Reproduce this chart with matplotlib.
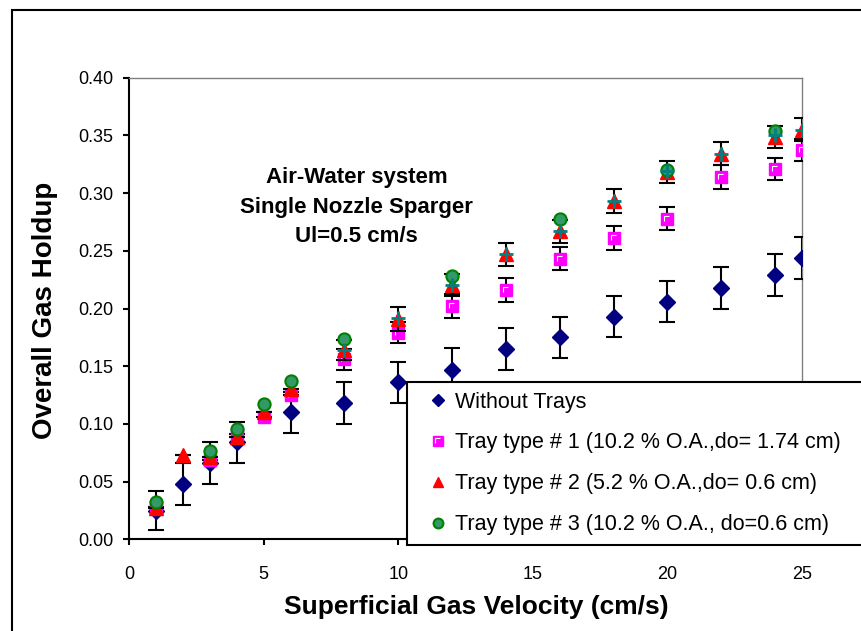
"""
Overall gas holdup vs superficial gas velocity, with and without trays
"""

import matplotlib
matplotlib.use("Agg")
from matplotlib import pyplot as plt
from matplotlib.lines import Line2D
from matplotlib.patches import Rectangle
from matplotlib.path import Path

plt.rcParams['font.family'] = ['Liberation Sans', 'DejaVu Sans']

# Without trays
ug_none = [1, 2, 3, 4, 6, 8, 10, 12, 14, 16, 18, 20, 22, 24, 25]
hold_none = [0.025, 0.048, 0.066, 0.084, 0.110, 0.118, 0.136, 0.147,
             0.165, 0.175, 0.193, 0.206, 0.218, 0.229, 0.244]
err_none = [0.017, 0.018, 0.018, 0.018, 0.018, 0.018, 0.018, 0.019,
            0.018, 0.018, 0.018, 0.018, 0.018, 0.018, 0.018]

# Tray type 1
ug_t1 = [1, 3, 4, 5, 6, 8, 10, 12, 14, 16, 18, 20, 22, 24, 25]
hold_t1 = [0.028, 0.069, 0.091, 0.106, 0.125, 0.156, 0.179, 0.202,
           0.216, 0.243, 0.261, 0.278, 0.314, 0.321, 0.337]
err_t1 = [0, 0, 0, 0, 0, 0.009, 0.009, 0.0105, 0.0105, 0.010, 0.0105,
          0.010, 0.010, 0.0095, 0.0095]

# Tray type 2
ug_t2 = [1, 2, 3, 4, 5, 6, 8, 10, 12, 14, 16, 18, 20, 22, 24, 25]
hold_t2 = [0.027, 0.073, 0.071, 0.089, 0.110, 0.130, 0.164, 0.191, 0.220,
           0.247, 0.267, 0.293, 0.318, 0.334, 0.349, 0.355]
err_t2 = [0, 0, 0, 0, 0, 0, 0.009, 0.0105, 0.0095, 0.010, 0.010, 0.0105,
          0.0095, 0.010, 0.0095, 0.010]

# Tray type 3
ug_t3 = [1, 3, 4, 5, 6, 8, 12, 16, 20, 24]
hold_t3 = [0.032, 0.077, 0.096, 0.117, 0.137, 0.174, 0.228, 0.278,
           0.320, 0.354]

# extra series shown as '+' (not in legend)
ug_plus = [8, 10, 12, 14, 16, 18, 20, 22, 24, 25]
hold_plus = [0.164, 0.192, 0.220, 0.247, 0.267, 0.293, 0.319, 0.334,
             0.350, 0.355]

labels = ["Without Trays",
          "Tray type # 1 (10.2 % O.A.,do= 1.74 cm)",
          "Tray type # 2 (5.2 % O.A.,do= 0.6 cm)",
          "Tray type # 3 (10.2 % O.A., do=0.6 cm)"]

# marker styles per series
styles = [dict(marker='D', ms=7.7, mfc='#000080', mec='#000080'),
          dict(marker='s', ms=8.5, mfc='#ff00ff', mec='#ff00ff'),
          dict(marker='^', ms=9.5, mfc='#ff0000', mec='#ff0000'),
          dict(marker='o', ms=8.8, mfc='#339966', mec='#008000', mew=1.5)]

# small white corner highlight on the square markers
# (first invisible point fixes the marker scale to the square's size)
corner = Path([(0.5, 0.5), (-0.28, -0.2), (-0.28, 0.28), (0.2, 0.28)],
              [Path.MOVETO, Path.MOVETO, Path.LINETO, Path.LINETO])
hl_style = dict(marker=corner, ms=8.5, mfc='none', mec='white', mew=0.8)

W, H = 861, 631
fig = plt.figure(figsize=(W / 100, H / 100), dpi=100)
ax = fig.add_axes([129 / W, 1 - 539.4 / H, 673 / W, 461.7 / H])

eb = dict(ecolor='black', elinewidth=1.5, capsize=5.5, capthick=1.5,
          linestyle='none')
ax.errorbar(ug_none, hold_none, yerr=err_none, zorder=3, **styles[0], **eb)
ax.errorbar(ug_t1, hold_t1, yerr=err_t1, zorder=4, **styles[1], **eb)
ax.plot(ug_t1, hold_t1, linestyle='none', zorder=4.5, **hl_style)
ax.errorbar(ug_t2, hold_t2, yerr=err_t2, zorder=5, **styles[2], **eb)
ax.plot(ug_t3, hold_t3, linestyle='none', zorder=6, **styles[3])
ax.plot(ug_plus, hold_plus, '+', ms=10, mew=2, color='#008080', zorder=7)

ax.set_xlim(0, 25)
ax.set_ylim(0, 0.40)
ax.set_xticks(range(0, 26, 5))
ax.set_yticks([i * 0.05 for i in range(9)])
ax.set_yticklabels([f"{i * 0.05:.2f}" for i in range(9)])
ax.tick_params(direction='out', length=4, width=1.5, labelsize=13)
ax.tick_params(axis='y', pad=7)
ax.tick_params(axis='x', pad=15)
for s in ('left', 'bottom'):
    ax.spines[s].set_linewidth(1.5)
    ax.spines[s].set_color('black')
for s in ('top', 'right'):
    ax.spines[s].set_linewidth(1.0)
    ax.spines[s].set_color('#808080')

fig.text(45 / W, 1 - 310 / H, "Overall Gas Holdup", rotation=90,
         ha='center', va='center', fontsize=20, fontweight='bold')
fig.text(476 / W, 1 - 607 / H, "Superficial Gas Velocity (cm/s)",
         ha='center', va='center', fontsize=19, fontweight='bold')

for txt, yp in zip(["Air-Water system", "Single Nozzle Sparger", "Ul=0.5 cm/s"],
                   [177, 207, 237]):
    fig.text(356.5 / W, 1 - yp / H, txt, ha='center', va='center',
             fontsize=16, fontweight='bold')

handles = [Line2D([], [], linestyle='none', **st) for st in styles]
handles[1] = (handles[1], Line2D([], [], linestyle='none', **hl_style))
leg = fig.legend(handles, labels, loc='upper left',
                 bbox_to_anchor=(407 / W, 0, 0.6, 1 - 382 / H),
                 mode='expand', fontsize=15.5, frameon=True, fancybox=False,
                 borderpad=0.45, labelspacing=0.92, handlelength=2.0,
                 handletextpad=-0.2, borderaxespad=0, markerscale=0.8)
leg.get_frame().set_edgecolor('black')
leg.get_frame().set_linewidth(1.5)
leg.get_frame().set_alpha(1)

fig.add_artist(Rectangle((12 / W, -0.1), 1.2, 1.1 - 10 / H, fill=False,
                         edgecolor='black', linewidth=1.5,
                         transform=fig.transFigure, clip_on=False))

plt.savefig("out.png", dpi=100)
